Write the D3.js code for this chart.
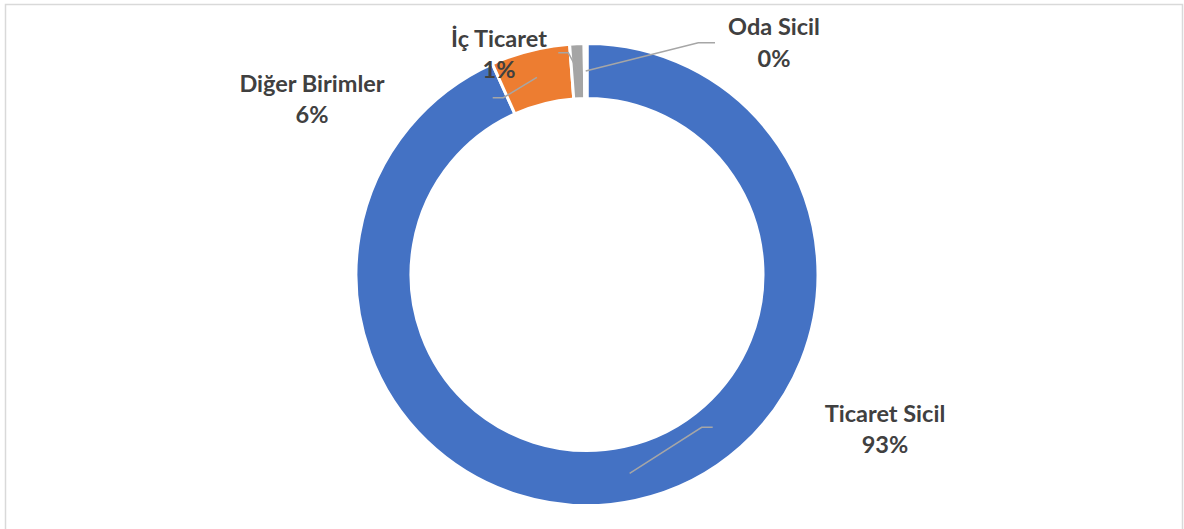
<!DOCTYPE html>
<html>
<head>
<meta charset="utf-8">
<script src="https://cdn.jsdelivr.net/npm/d3@7"></script>
<style>
  html, body { margin: 0; padding: 0; background: #fff; }
  svg { display: block; }
  .lbl { font-family: Lato, "Open Sans", sans-serif; font-weight: 700; font-size: 23.5px; fill: #404040; }
</style>
</head>
<body>
<div id="chart"></div>
<script>
// ---- data ----
const categories = ["Ticaret Sicil", "Diğer Birimler", "İç Ticaret", "Oda Sicil"];
const shares = [93.28, 5.52, 1.0, 0.2];
const colors = ["#4472C4", "#ED7D31", "#A5A5A5", "#FFC000"];

// label layout (first baseline centre, leader start, elbow x)
const labelLayout = [
  { x: 885, y: 421.7, sx: 712.7, sy: 427.3, ex: 701.7 },
  { x: 312, y: 91.7, sx: 492.7, sy: 97.7, ex: 503.3 },
  { x: 499, y: 46.7, sx: 558.3, sy: 52.7, ex: 568.3 },
  { x: 774, y: 35, sx: 715, sy: 42.7, ex: 698.3 }
];

const W = 1184, H = 529;
const cx = 587, cy = 274.5;
const outerR = 231, innerR = 176;

const svg = d3.select("#chart").append("svg")
  .attr("width", W)
  .attr("height", H);

// chart frame
svg.append("rect")
  .attr("x", 5.5).attr("y", 4.5)
  .attr("width", 1177).attr("height", 560)
  .attr("fill", "#fff")
  .attr("stroke", "#d9d9d9")
  .attr("stroke-width", 1.5);

const data = categories.map((c, i) => ({ name: c, value: shares[i], color: colors[i], i }));
const total = d3.sum(shares);

const pie = d3.pie().value(d => d.value).sort(null);
const arc = d3.arc().innerRadius(innerR).outerRadius(outerR);

const g = svg.append("g").attr("transform", `translate(${cx},${cy})`);
const arcs = pie(data);

g.selectAll("path.slice")
  .data(arcs)
  .join("path")
  .attr("class", "slice")
  .attr("d", arc)
  .attr("fill", d => d.data.color)
  .attr("stroke", "#fff")
  .attr("stroke-width", 3)
  .attr("stroke-linejoin", "round");

// leader lines
svg.append("g")
  .selectAll("polyline")
  .data(arcs)
  .join("polyline")
  .attr("fill", "none")
  .attr("stroke", "#A6A6A6")
  .attr("stroke-width", 1.5)
  .attr("points", d => {
    const L = labelLayout[d.data.i];
    const c = arc.centroid(d);
    return [[L.sx, L.sy], [L.ex, L.sy], [cx + c[0], cy + c[1]]].map(p => p.join(",")).join(" ");
  });

// labels
const lbl = svg.append("g")
  .selectAll("text")
  .data(arcs)
  .join("text")
  .attr("class", "lbl")
  .attr("text-anchor", "middle")
  .attr("x", d => labelLayout[d.data.i].x)
  .attr("y", d => labelLayout[d.data.i].y);

lbl.append("tspan")
  .text(d => d.data.name);
lbl.append("tspan")
  .attr("x", d => labelLayout[d.data.i].x)
  .attr("dy", 31.6)
  .text(d => Math.round(d.data.value / total * 100) + "%");
</script>
</body>
</html>
